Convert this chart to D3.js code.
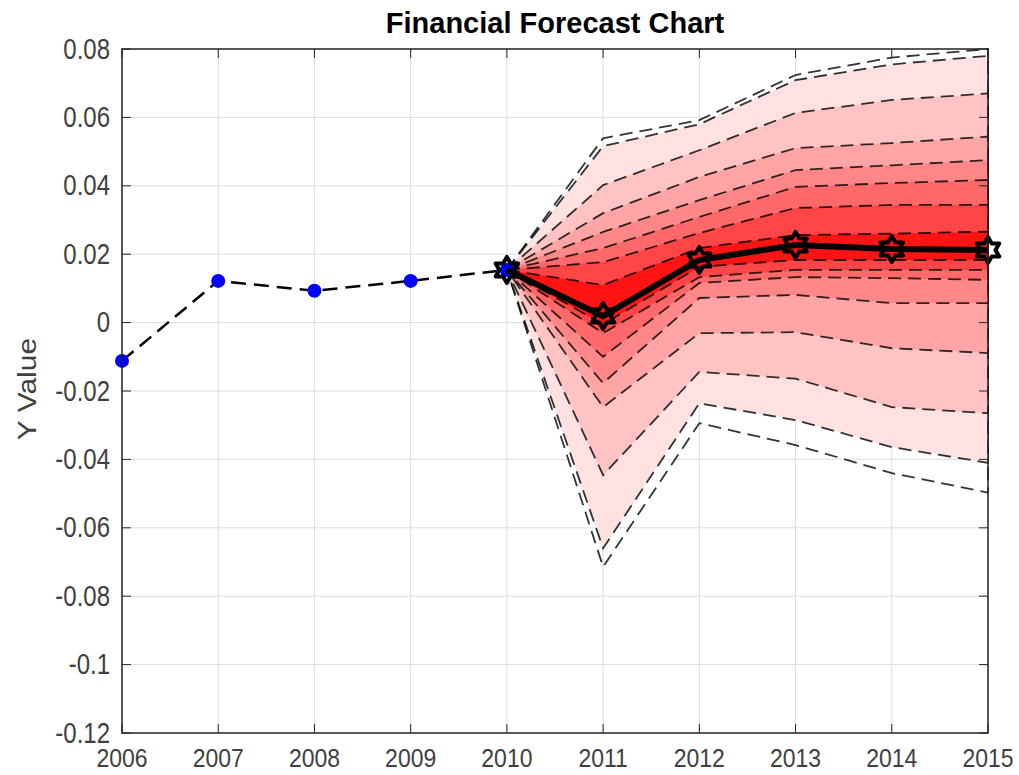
<!DOCTYPE html>
<html><head><meta charset="utf-8">
<script src="https://cdn.jsdelivr.net/npm/d3@7"></script>
<style>body{margin:0;background:#fff}svg{display:block}text{font-family:"Liberation Sans",Arial,sans-serif;fill:#262626}</style>
</head><body><svg id="c" width="1019" height="775"></svg>
<script>
const histYears = [2006, 2007, 2008, 2009, 2010];
const histValues = [-0.0112, 0.0122, 0.0093, 0.0122, 0.0154];
const fcYears = [2010, 2011, 2012, 2013, 2014, 2015];
const fcCenter = [0.0154, 0.0019, 0.0183, 0.0227, 0.0215, 0.0212];
const outerUpper = [0.0154, 0.0539, 0.0592, 0.0724, 0.0775, 0.0800];
const outerLower = [0.0154, -0.0714, -0.0294, -0.0358, -0.0440, -0.0497];
const band1Upper = [0.0154, 0.0516, 0.0580, 0.0709, 0.0755, 0.0780];
const band1Lower = [0.0154, -0.0660, -0.0236, -0.0285, -0.0364, -0.0410];
const band2Upper = [0.0154, 0.0402, 0.0504, 0.0613, 0.0651, 0.0670];
const band2Lower = [0.0154, -0.0446, -0.0144, -0.0164, -0.0247, -0.0265];
const band3Upper = [0.0154, 0.0320, 0.0426, 0.0510, 0.0525, 0.0544];
const band3Lower = [0.0154, -0.0247, -0.0031, -0.0028, -0.0075, -0.0089];
const band4Upper = [0.0154, 0.0265, 0.0358, 0.0446, 0.0460, 0.0475];
const band4Lower = [0.0154, -0.0177, 0.0072, 0.0081, 0.0057, 0.0057];
const band5Upper = [0.0154, 0.0218, 0.0309, 0.0397, 0.0408, 0.0417];
const band5Lower = [0.0154, -0.0100, 0.0116, 0.0133, 0.0130, 0.0125];
const band6Upper = [0.0154, 0.0177, 0.0262, 0.0335, 0.0344, 0.0344];
const band6Lower = [0.0154, -0.0031, 0.0133, 0.0154, 0.0154, 0.0154];
const band7Upper = [0.0154, 0.0110, 0.0218, 0.0256, 0.0260, 0.0266];
const band7Lower = [0.0154, -0.0005, 0.0163, 0.0183, 0.0183, 0.0183];
const bandColors = ["#ffffff", "#ffe1e1", "#ffc3c3", "#ffa5a5", "#ff8787", "#ff6969", "#ff4646", "#ff1414"];
const xTicks = [2006, 2007, 2008, 2009, 2010, 2011, 2012, 2013, 2014, 2015];
const yTicks = [-0.12, -0.1, -0.08, -0.06, -0.04, -0.02, 0, 0.02, 0.04, 0.06, 0.08];
const titleText = "Financial Forecast Chart";
const yLabelText = "Y Value";

const bands = [
  [outerUpper, outerLower], [band1Upper, band1Lower], [band2Upper, band2Lower],
  [band3Upper, band3Lower], [band4Upper, band4Lower], [band5Upper, band5Lower],
  [band6Upper, band6Lower], [band7Upper, band7Lower]
];

const L = 122, R = 988, T = 49, B = 733;
const svg = d3.select("#c");
const x = d3.scaleLinear().domain([2006, 2015]).range([L, R]);
const y = d3.scaleLinear().domain([-0.12, 0.08]).range([B, T]);

// grid
const g = svg.append("g");
g.selectAll(".gx").data(xTicks).join("line")
  .attr("x1", d => x(d)).attr("x2", d => x(d)).attr("y1", T).attr("y2", B)
  .attr("stroke", "#dcdcdc").attr("stroke-width", 1);
g.selectAll(".gy").data(yTicks).join("line")
  .attr("x1", L).attr("x2", R).attr("y1", d => y(d)).attr("y2", d => y(d))
  .attr("stroke", "#dcdcdc").attr("stroke-width", 1);

// bands
bands.forEach((b, i) => {
  const pts = fcYears.map((yr, k) => [x(yr), y(b[0][k])])
    .concat(fcYears.map((yr, k) => [x(yr), y(b[1][k])]).reverse());
  svg.append("path")
    .attr("d", d3.line()(pts) + "Z")
    .attr("fill", bandColors[i])
    .attr("fill-opacity", i === 0 ? 0 : 1)
    .attr("stroke", "#000").attr("stroke-width", 1.8)
    .attr("stroke-dasharray", "13,7").attr("stroke-opacity", 0.8);
});

// historical
const line = d3.line().x(d => x(d[0])).y(d => y(d[1]));
svg.append("path").attr("d", line(histYears.map((v, i) => [v, histValues[i]])))
  .attr("fill", "none").attr("stroke", "#000").attr("stroke-width", 2.5)
  .attr("stroke-dasharray", "15,8");
svg.selectAll(".hp").data(histYears).join("circle")
  .attr("cx", d => x(d)).attr("cy", (d, i) => y(histValues[i])).attr("r", 7)
  .attr("fill", "#0000ff");

// center forecast
svg.append("path").attr("d", line(fcYears.map((v, i) => [v, fcCenter[i]])))
  .attr("fill", "none").attr("stroke", "#000").attr("stroke-width", 6);

function hexagram(r) {
  const p = [];
  for (let k = 0; k < 12; k++) {
    const a = -Math.PI / 2 + k * Math.PI / 6;
    const rr = k % 2 === 0 ? r : r * 0.577;
    p.push([rr * Math.cos(a), rr * Math.sin(a)]);
  }
  return d3.line()(p) + "Z";
}
svg.selectAll(".st").data(fcYears).join("path")
  .attr("transform", (d, i) => `translate(${x(d)},${y(fcCenter[i])})`)
  .attr("d", hexagram(13)).attr("fill", "none").attr("stroke", "#000").attr("stroke-width", 4)
  .attr("stroke-linejoin", "round");

// axes box
const ax = svg.append("g");
ax.append("rect").attr("x", L).attr("y", T).attr("width", R - L).attr("height", B - T)
  .attr("fill", "none").attr("stroke", "#262626").attr("stroke-width", 1.5);
ax.selectAll(".tb").data(xTicks).join("line")
  .attr("x1", d => x(d)).attr("x2", d => x(d)).attr("y1", B).attr("y2", B - 9).attr("stroke", "#262626");
ax.selectAll(".tt").data(xTicks).join("line")
  .attr("x1", d => x(d)).attr("x2", d => x(d)).attr("y1", T).attr("y2", T + 9).attr("stroke", "#262626");
ax.selectAll(".tl").data(yTicks).join("line")
  .attr("x1", L).attr("x2", L + 9).attr("y1", d => y(d)).attr("y2", d => y(d)).attr("stroke", "#262626");
ax.selectAll(".tr").data(yTicks).join("line")
  .attr("x1", R).attr("x2", R - 9).attr("y1", d => y(d)).attr("y2", d => y(d)).attr("stroke", "#262626");

ax.selectAll(".xl").data(xTicks).join("text")
  .attr("transform", d => `translate(${x(d)},767) scale(1,1.15)`).attr("text-anchor", "middle")
  .attr("font-size", 23).style("fill", "#404040").text(d => d);
ax.selectAll(".yl").data(yTicks).join("text")
  .attr("transform", d => `translate(110,${y(d) + 9.5}) scale(1,1.2)`).attr("text-anchor", "end")
  .attr("font-size", 24).style("fill", "#404040").text(d => String(+d.toFixed(2)));

svg.append("text").attr("x", (L + R) / 2).attr("y", 33).attr("text-anchor", "middle")
  .attr("font-size", 29).attr("font-weight", "bold").style("fill", "#000").text(titleText);
svg.append("text").attr("transform", `translate(36,${(T + B) / 2 - 2}) rotate(-90) scale(1.2,1)`)
  .attr("text-anchor", "middle").attr("font-size", 25).style("fill", "#404040").text(yLabelText);
</script></body></html>
